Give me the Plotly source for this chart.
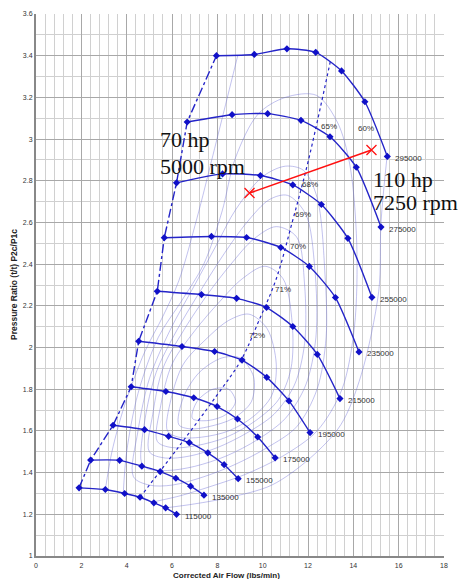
import plotly.graph_objects as go

# ---------------- data ----------------
speed_names = ["115000", "135000", "155000", "175000", "195000",
               "215000", "235000", "255000", "275000", "295000"]
speed_x = [
    [1.9, 3.06, 3.91, 4.59, 5.2, 5.72, 6.2],
    [2.41, 3.69, 4.67, 5.48, 6.17, 6.82, 7.41],
    [3.4, 4.79, 5.85, 6.76, 7.58, 8.3, 8.92],
    [4.2, 5.73, 6.96, 7.99, 8.89, 9.78, 10.55],
    [4.53, 6.44, 7.88, 9.09, 10.18, 11.16, 12.09],
    [5.35, 7.3, 8.85, 10.17, 11.33, 12.41, 13.41],
    [5.66, 7.74, 9.29, 10.8, 12.06, 13.21, 14.25],
    [6.2, 8.23, 9.9, 11.33, 12.59, 13.76, 14.82],
    [6.67, 8.65, 10.22, 11.69, 12.97, 14.13, 15.22],
    [7.96, 9.63, 11.07, 12.34, 13.48, 14.51, 15.5],
]
speed_y = [
    [1.327, 1.319, 1.30, 1.282, 1.255, 1.231, 1.20],
    [1.46, 1.459, 1.431, 1.405, 1.373, 1.335, 1.292],
    [1.627, 1.606, 1.574, 1.544, 1.495, 1.438, 1.371],
    [1.812, 1.789, 1.759, 1.717, 1.657, 1.571, 1.471],
    [2.03, 2.005, 1.981, 1.94, 1.857, 1.744, 1.592],
    [2.27, 2.254, 2.236, 2.192, 2.101, 1.967, 1.755],
    [2.527, 2.533, 2.528, 2.48, 2.389, 2.24, 1.979],
    [2.79, 2.833, 2.825, 2.78, 2.686, 2.524, 2.241],
    [3.082, 3.117, 3.122, 3.09, 3.011, 2.865, 2.578],
    [3.40, 3.406, 3.433, 3.416, 3.327, 3.179, 2.917],
]

# max-efficiency (dotted) line
peak_x = [4.59, 6.2, 7.96, 9.05, 9.8, 10.6, 11.3, 12.0, 13.0]
peak_y = [1.282, 1.51, 1.768, 1.94, 2.12, 2.33, 2.6, 2.89, 3.38]

# efficiency islands (each a list of segments of x / y)
eff_x = {
    "60a": [3.06, 3.35, 3.9, 4.8, 5.6, 6.3, 7.1, 7.8, 8.9],
    "60b": [15.5, 15.22, 15.12, 14.35, 13.45, 12.1, 10.4, 8.5, 7.0, 5.72],
    "65": [3.85, 4.0, 4.5, 5.4, 6.4, 7.4, 8.2, 8.8, 9.8, 11.0, 12.37, 13.3, 13.84,
           14.15, 14.05, 13.5, 12.4, 10.9, 9.2, 7.6, 6.4, 5.2],
    "68": [4.3, 4.5, 5.0, 5.9, 7.0, 8.0, 8.8, 10.0, 11.0, 11.8, 12.4, 12.75, 12.8,
           12.4, 11.5, 10.2, 8.8, 7.4, 6.0, 5.0, 4.3],
    "69": [4.65, 4.8, 5.3, 6.2, 7.3, 8.3, 9.3, 10.3, 11.1, 11.9, 12.3, 12.35,
           11.9, 11.0, 9.8, 8.4, 7.0, 5.8, 4.9, 4.65],
    "70": [5.0, 5.15, 5.6, 6.5, 7.6, 8.6, 9.6, 10.6, 11.5, 11.85, 11.85, 11.4,
           10.5, 9.3, 8.0, 6.8, 5.7, 5.0],
    "71": [5.35, 5.5, 6.0, 7.0, 8.1, 9.1, 10.1, 10.9, 11.3, 11.25, 10.7, 9.7,
           8.4, 7.1, 6.0, 5.35],
    "72": [5.8, 5.95, 6.5, 7.5, 8.5, 9.4, 10.2, 10.6, 10.4, 9.6, 8.5, 7.3, 6.3, 5.8],
    "73": [6.3, 6.5, 7.2, 8.2, 9.0, 9.6, 9.5, 8.7, 7.6, 6.8, 6.3],
    "74": [6.9, 7.1, 7.8, 8.5, 8.8, 8.4, 7.6, 6.9],
}
eff_y = {
    "60a": [1.319, 1.5, 1.72, 1.98, 2.15, 2.32, 2.62, 2.92, 3.40],
    "60b": [2.93, 2.6, 2.27, 1.87, 1.63, 1.47, 1.34, 1.28, 1.25, 1.231],
    "65": [1.30, 1.5, 1.78, 2.05, 2.22, 2.4, 2.65, 2.91, 3.12, 3.2, 3.21, 3.08, 2.88,
           2.5, 2.1, 1.8, 1.6, 1.48, 1.39, 1.33, 1.29, 1.26],
    "68": [1.38, 1.6, 1.85, 2.08, 2.3, 2.5, 2.66, 2.82, 2.87, 2.85, 2.72, 2.35, 2.05,
           1.8, 1.62, 1.52, 1.44, 1.38, 1.34, 1.34, 1.38],
    "69": [1.45, 1.65, 1.88, 2.08, 2.28, 2.45, 2.6, 2.71, 2.73, 2.64, 2.38, 2.05,
           1.82, 1.66, 1.56, 1.48, 1.43, 1.41, 1.42, 1.45],
    "70": [1.5, 1.68, 1.9, 2.08, 2.26, 2.4, 2.52, 2.58, 2.53, 2.3, 2.02, 1.82,
           1.68, 1.59, 1.52, 1.48, 1.47, 1.5],
    "71": [1.55, 1.72, 1.92, 2.08, 2.22, 2.33, 2.39, 2.33, 2.12, 1.9, 1.75, 1.65,
           1.57, 1.53, 1.52, 1.55],
    "72": [1.6, 1.75, 1.92, 2.04, 2.13, 2.16, 2.09, 1.92, 1.77, 1.67, 1.6, 1.57, 1.57, 1.6],
    "73": [1.63, 1.76, 1.88, 1.95, 1.95, 1.86, 1.74, 1.66, 1.62, 1.61, 1.63],
    "74": [1.66, 1.74, 1.8, 1.8, 1.74, 1.68, 1.65, 1.66],
}
eff_labels = ["60%", "65%", "68%", "69%", "70%", "71%", "72%"]
eff_label_x = [14.55, 12.94, 12.1, 11.77, 11.58, 10.89, 9.77]
eff_label_y = [3.05, 3.06, 2.78, 2.636, 2.486, 2.28, 2.06]

# operating points
op_x = [9.42, 14.8]
op_y = [2.741, 2.948]
op_text = [["70 hp", "5000 rpm"], ["110 hp", "7250 rpm"]]

x_ticks = [0, 2, 4, 6, 8, 10, 12, 14, 16, 18]
x_tick_text = ["0", "2", "4", "6", "8", "10", "12", "14", "16", "18"]
y_ticks = [1, 1.2, 1.4, 1.6, 1.8, 2, 2.2, 2.4, 2.6, 2.8, 3, 3.2, 3.4, 3.6]
y_tick_text = ["1", "1.2", "1.4", "1.6", "1.8", "2", "2.2", "2.4", "2.6", "2.8",
               "3", "3.2", "3.4", "3.6"]

# ---------------- figure ----------------
BLUE = "#2424c8"
ISLAND = "rgba(110,110,215,0.42)"
fig = go.Figure()

for k in eff_x:
    fig.add_trace(go.Scatter(x=eff_x[k], y=eff_y[k], mode="lines",
                             line=dict(color=ISLAND, width=1, shape="spline", smoothing=0.9),
                             hoverinfo="skip", showlegend=False))

fig.add_trace(go.Scatter(x=peak_x, y=peak_y, mode="lines",
                         line=dict(color=BLUE, width=1.2, dash="dot", shape="spline"),
                         showlegend=False))

surge_x = [sx[0] for sx in speed_x]
surge_y = [sy[0] for sy in speed_y]
fig.add_trace(go.Scatter(x=surge_x, y=surge_y, mode="lines",
                         line=dict(color=BLUE, width=1.4, dash="dashdot"),
                         showlegend=False))

for name, sx, sy in zip(speed_names, speed_x, speed_y):
    fig.add_trace(go.Scatter(x=sx, y=sy, mode="lines+markers", name=name,
                             line=dict(color=BLUE, width=1.4, shape="spline", smoothing=0.6),
                             marker=dict(symbol="diamond", size=5.5, color="#1010c8"),
                             showlegend=False))
    fig.add_annotation(x=sx[-1], y=sy[-1], text=name, showarrow=False,
                       xanchor="left", yanchor="middle", xshift=6, yshift=-2,
                       font=dict(family="Liberation Sans, Arial", size=8, color="#333"))

for t, lx, ly in zip(eff_labels, eff_label_x, eff_label_y):
    fig.add_annotation(x=lx, y=ly, text=t, showarrow=False,
                       font=dict(family="Liberation Sans, Arial", size=8, color="#333"))

fig.add_trace(go.Scatter(x=op_x, y=op_y, mode="lines+markers",
                         line=dict(color="#ff1010", width=1.6),
                         marker=dict(symbol="x-thin", size=10, color="#ff1010",
                                     line=dict(color="#ff1010", width=1.3)),
                         showlegend=False))

serif = dict(family="Liberation Serif, Times New Roman, serif", size=22, color="#111")
fig.add_annotation(x=5.47, y=2.997, text=op_text[0][0], showarrow=False, xanchor="left",
                   xshift=-2, font=serif)
fig.add_annotation(x=5.47, y=2.868, text=op_text[0][1], showarrow=False, xanchor="left",
                   xshift=-2, font=serif)
fig.add_annotation(x=14.93, y=2.806, text=op_text[1][0], showarrow=False, xanchor="left",
                   xshift=-3, font=serif)
fig.add_annotation(x=14.93, y=2.697, text=op_text[1][1], showarrow=False, xanchor="left",
                   xshift=-3, font=serif)

# axis titles
fig.add_annotation(x=8.42, xref="x", y=0, yref="paper", yanchor="top", yshift=-13,
                   text="<b>Corrected Air Flow (lbs/min)</b>",
                   showarrow=False, font=dict(family="Liberation Sans, Arial", size=8, color="#222"))
fig.add_annotation(x=0, xref="paper", xanchor="center", xshift=-22, y=0.5, yref="paper",
                   textangle=-90,
                   text="<b>Pressure Ratio (t/t) P2c/P1c</b>", showarrow=False,
                   font=dict(family="Liberation Sans, Arial", size=8.5, color="#222"))

fig.update_xaxes(range=[0, 18], tickvals=x_ticks, ticktext=x_tick_text,
                 showgrid=True, gridcolor="#a8a8a8", gridwidth=1,
                 minor=dict(tickvals=[i * 0.4 for i in range(46)], showgrid=True, gridcolor="#d0d0d0", gridwidth=1),
                 showline=True, linecolor="#888", linewidth=2, zeroline=False,
                 ticks="", ticklabelstandoff=2,
                 tickfont=dict(family="Liberation Sans, Arial", size=7, color="#333"))
fig.update_yaxes(range=[1, 3.6], tickvals=y_ticks, ticktext=y_tick_text,
                 showgrid=True, gridcolor="#a8a8a8", gridwidth=1,
                 minor=dict(tickvals=[1 + i * 0.1 for i in range(27)], showgrid=True, gridcolor="#d0d0d0", gridwidth=1),
                 showline=True, linecolor="#888", linewidth=2, zeroline=False,
                 ticks="", tickfont=dict(family="Liberation Sans, Arial", size=7, color="#333"))

fig.update_layout(width=458, height=579, margin=dict(l=36, r=13, t=10, b=23),
                  plot_bgcolor="white", paper_bgcolor="white", showlegend=False)

fig.write_html("out.html")
